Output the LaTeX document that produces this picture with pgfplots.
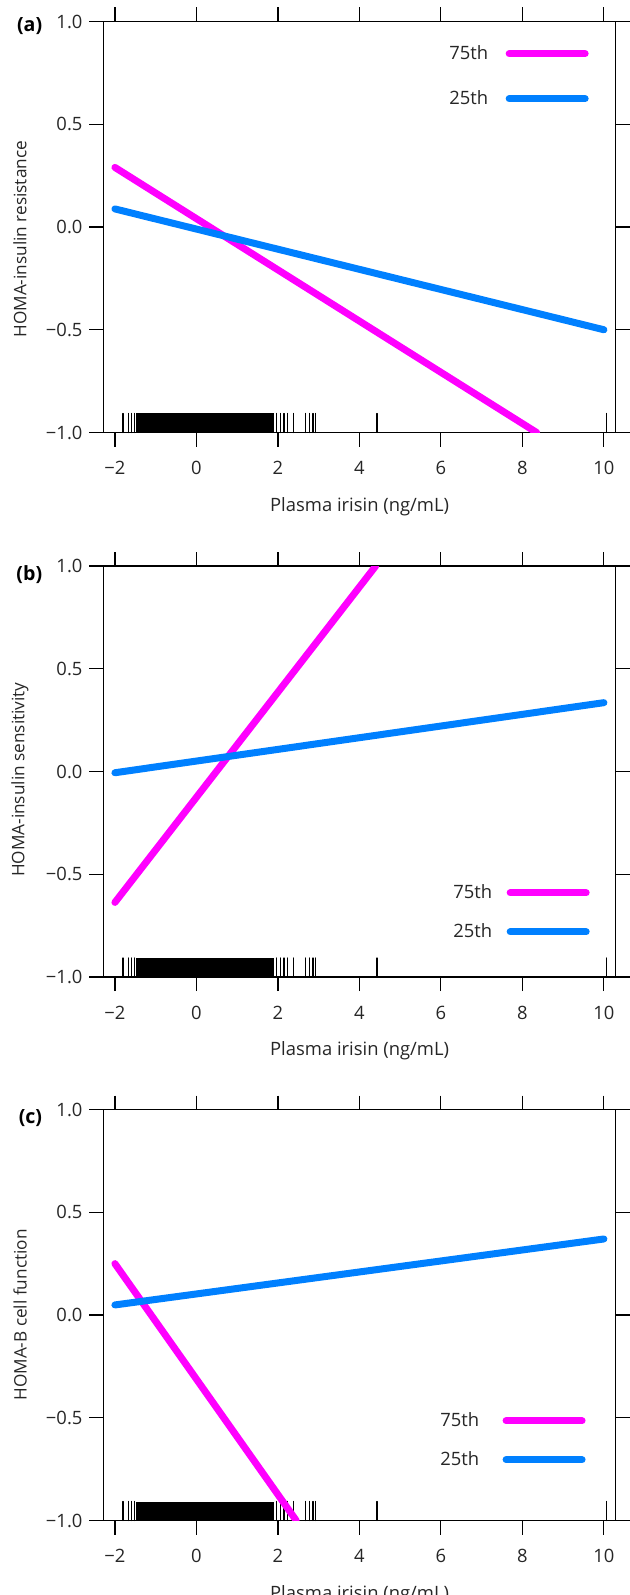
\documentclass[border=0pt]{standalone}
\usepackage{fontspec}
\setmainfont{Open Sans}
\usepackage{pgfplots}
\pgfplotsset{compat=1.18}
\definecolor{mag}{RGB}{255,0,255}
\definecolor{blu}{RGB}{0,128,255}
\newcommand{\lblfont}{\fontsize{9.2}{11}\selectfont}

\tikzset{plabel/.style={font=\bfseries\fontsize{9.8}{11}\selectfont, anchor=east, text=black}}

\pgfplotsset{
  panel/.style={
    scale only axis, width=256.1pt, height=205.5pt,
    xmin=-2.28, xmax=10.29, ymin=-1, ymax=1,
    clip mode=individual,
    xtick={-2,0,...,10}, xticklabels={−2,0,2,4,6,8,10},
    ytick={-1,-0.5,0,0.5,1}, yticklabels={−1.0,−0.5,0.0,0.5,1.0},
    tick align=outside, tick pos=both, major tick length=7pt,
    xticklabel pos=lower, yticklabel pos=left,
    axis line style={line width=0.6pt},
    every tick/.style={black, line width=0.6pt},
    tick label style={font=\lblfont, text=black!85},
    xticklabel style={yshift=-4pt},
    xlabel={Plasma irisin (ng/mL)},
    xlabel style={at={(axis description cs:0.5,0)}, anchor=center, yshift=-37pt,
      font=\lblfont, text=black!85},
    ylabel style={at={(axis description cs:-0.163,0.5)}, anchor=center,
      font=\fontsize{8.6}{10}\selectfont, text=black!85},
    legend plot pos=right, legend cell align=right,
    legend image code/.code={\draw[##1, line cap=round] (0pt,0pt) -- (38pt,0pt);},
    every axis plot/.append style={line width=3.5pt, line cap=round},
  },
  rug/.style={forget plot, only marks, mark=|, mark size=4.75pt,
    mark options={line width=0.6pt, black}},
  rugblock/.style={forget plot, fill=black, draw=none, line width=0pt},
}

\newcommand{\rug}{%
  \addplot[rugblock] coordinates {(-1.48,-1) (1.91,-1) (1.91,-0.9075) (-1.48,-0.9075)};
  \addplot[rug] coordinates {
    (-1.80,-0.9538) (-1.66,-0.9538) (-1.59,-0.9538) (-1.52,-0.9538)
    (1.97,-0.9538) (2.07,-0.9538) (2.15,-0.9538) (2.24,-0.9538) (2.38,-0.9538)
    (2.68,-0.9538) (2.77,-0.9538) (2.86,-0.9538) (2.92,-0.9538)
    (4.43,-0.9538) (10.06,-0.9538)};
}

\begin{document}
\begin{tikzpicture}
\useasboundingbox (0,0) rectangle (314.5pt,-797.5pt);

% (a)
\begin{axis}[panel, at={(51.75pt,-10.75pt)}, anchor=north west,
  ylabel={HOMA-insulin resistance},
  ylabel style={at={(axis description cs:-0.163,0.47)}},
  legend style={at={(axis description cs:0.948,0.953)}, anchor=north east,
    draw=none, fill=none, inner sep=0pt, font=\lblfont, text=black!85,
    row sep=10pt, column sep=6.75pt}]
\rug
\addplot[mag] coordinates {(-2,0.29) (8.35,-1.0)};
\addlegendentry{75th}
\addplot[blu] coordinates {(-2,0.088) (10,-0.50)};
\addlegendentry{25th}
\node[plabel] at (axis description cs:-0.106,0.99) {(a)};
\end{axis}

% (b)
\begin{axis}[panel, at={(51.75pt,-283pt)}, anchor=north west,
  ylabel={HOMA-insulin sensitivity},
  ylabel style={at={(axis description cs:-0.163,0.48)}},
  legend style={at={(axis description cs:0.95,0.236)}, anchor=north east,
    draw=none, fill=none, inner sep=0pt, font=\lblfont, text=black!85,
    row sep=7pt, column sep=5.25pt}]
\rug
\addplot[mag] coordinates {(-2,-0.637) (4.4,1.0)};
\addlegendentry{75th}
\addplot[blu] coordinates {(-2,-0.006) (10,0.335)};
\addlegendentry{25th}
\node[plabel] at (axis description cs:-0.106,0.98) {(b)};
\end{axis}

% (c)
\begin{axis}[panel, at={(51.75pt,-554.75pt)}, anchor=north west,
  ylabel={HOMA-B cell function},
  legend style={at={(axis description cs:0.942,0.274)}, anchor=north east,
    draw=none, fill=none, inner sep=0pt, font=\lblfont, text=black!85,
    row sep=7pt, column sep=9.75pt}]
\rug
\addplot[mag] coordinates {(-2,0.25) (2.45,-1.0)};
\addlegendentry{75th}
\addplot[blu] coordinates {(-2,0.049) (10,0.37)};
\addlegendentry{25th}
\node[plabel] at (axis description cs:-0.106,0.98) {(c)};
\end{axis}
\end{tikzpicture}
\end{document}
